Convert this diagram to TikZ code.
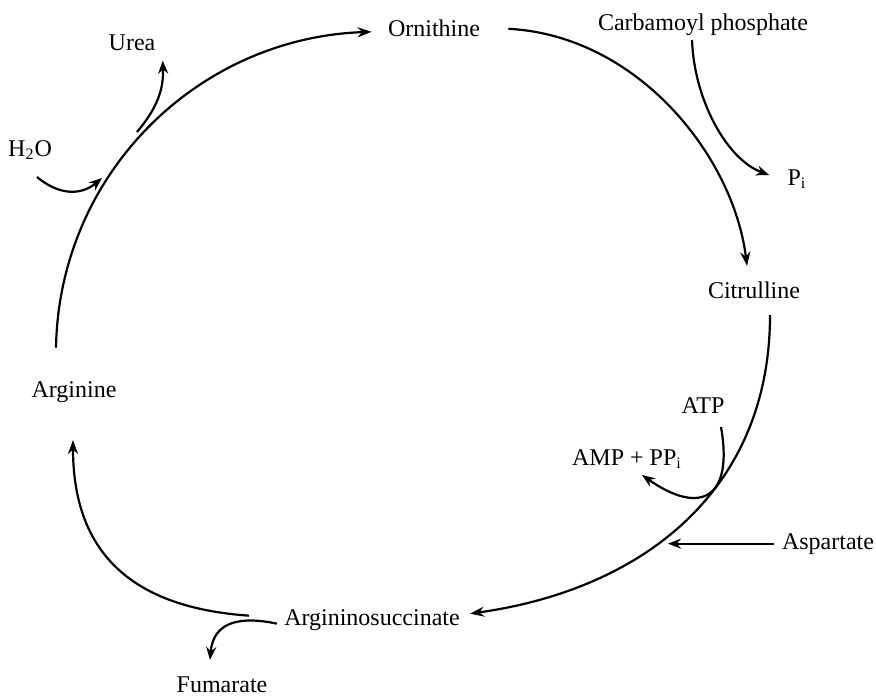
\documentclass[tikz,border=0pt]{standalone}
\usepackage{fontspec}
\setmainfont{Liberation Serif}
\usetikzlibrary{arrows.meta}

\begin{document}
\begin{tikzpicture}[x=0.5pt, y=0.5pt,
  lbl/.style={anchor=base, inner sep=0pt, font=\fontsize{12}{14}\selectfont},
  mainarc/.style={line width=1.1pt, -{Stealth[length=7pt, width=5pt]}},
  sidearc/.style={line width=1.1pt, -{Stealth[length=6.5pt, width=5pt]}}]
  \useasboundingbox (0,0) rectangle (876,-697);

  \node[lbl] (orn) at (434,-36) {Ornithine};
  \node[lbl] (carb) at (703,-30) {Carbamoyl phosphate};
  \node[lbl] (pi) at (797,-185) {P\textsubscript{i}};
  \node[lbl] (cit) at (754,-298) {Citrulline};
  \node[lbl] (atp) at (703,-413) {ATP};
  \node[lbl] (amp) at (627,-465) {AMP + PP\textsubscript{i}};
  \node[lbl] (asp) at (828,-549) {Aspartate};
  \node[lbl] (args) at (372,-625) {Argininosuccinate};
  \node[lbl] (fum) at (222,-692) {Fumarate};
  \node[lbl] (arg) at (74,-397) {Arginine};
  \node[lbl] (urea) at (132,-50) {Urea};
  \node[lbl] (water) at (30,-156) {H\textsubscript{2}O};

  \coordinate (urea-out) at (137,-132);
  \coordinate (h2o-in) at (102,-178);
  \coordinate (asp-in) at (668,-541);

  \draw[mainarc] ([shift={(-18,33)}]arg.north) .. controls +(89:174) and +(182:174) .. ([shift={(-16,-4)}]orn.west);
  \draw[mainarc] ([shift={(28,-1)}]orn.east) .. controls +(-3:130) and +(97:110) .. ([shift={(-7,15)}]cit.north);
  \draw[mainarc] ([shift={(16,-17)}]cit.base) .. controls +(-90:175) and +(8:175) .. ([shift={(10,6)}]args.east);
  \draw[mainarc] ([shift={(-35,4)}]args.west) .. controls +(176:115) and +(-90:115) .. ([shift={(-1,-43)}]arg.base);

  \draw[sidearc] ([shift={(-11,-10)}]carb.base) .. controls +(-88:60) and +(160:45) .. ([shift={(-18,10)}]pi.base west);
  \draw[sidearc] ([shift={(18,-14)}]atp.base) .. controls +(-80:72) and +(-35:72) .. ([shift={(15,-10)}]amp.base);
  \draw[sidearc] ([xshift=-4pt]asp.west) -- (asp-in |- asp.west);
  \draw[sidearc] ([shift={(-7,-4)}]args.west) .. controls +(168:35) and +(85:40) .. ([shift={(-12,16)}]fum.north);
  \draw[sidearc] (urea-out) .. controls +(50:30) and +(-88:30) .. ([shift={(7,-10)}]urea.south east);
  \draw[sidearc] ([shift={(7,-21)}]water.base) .. controls +(-40:28) and +(220:28) .. (h2o-in);
\end{tikzpicture}
\end{document}
